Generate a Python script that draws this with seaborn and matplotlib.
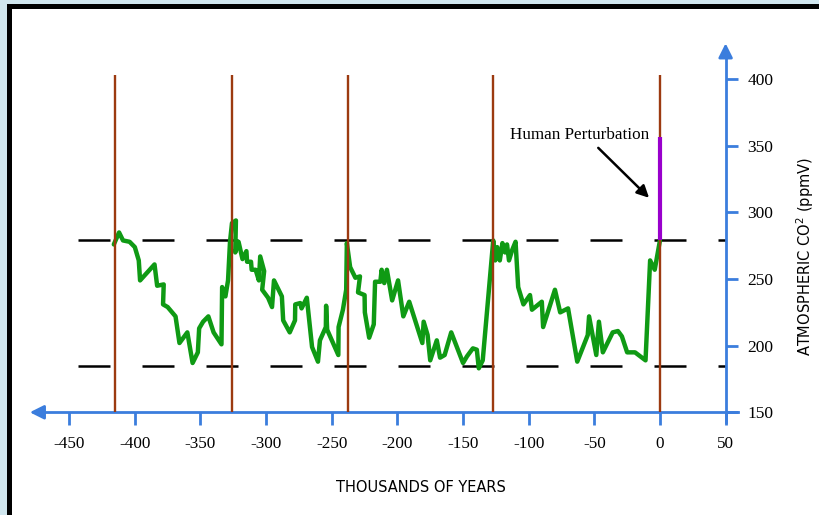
import matplotlib
matplotlib.use("Agg")
import matplotlib.pyplot as plt
from matplotlib.patches import Rectangle
import seaborn as sns
import pandas as pd

# ---- data (thousands of years, ppmV) ----
years = [-416, -412, -409, -404, -400, -397, -396, -385, -383, -378, -378.5, -375,
         -369, -366, -360, -356, -352, -351, -348, -344, -340, -334, -333.5, -331,
         -329, -327.5, -326, -323, -323.5, -321, -318, -315, -314.5, -311.5, -311,
         -308, -305.5, -304.5, -301.5, -303, -298.5, -295.5, -294, -288, -287, -282,
         -278, -277.8, -274, -273, -269, -265, -260.5, -259, -254.5, -254.3, -253.5,
         -245, -244.8, -241.5, -239, -238.5, -236, -232, -228.5, -230, -225, -224.8,
         -221.5, -218, -217, -213, -212, -210, -208, -204, -199.5, -195.5, -191,
         -181, -180, -177, -175, -170, -167.5, -164, -159, -150, -147, -142.5,
         -139.5, -138, -135, -127, -125.5, -124, -122, -120, -118, -116.5, -115,
         -112.5, -110, -108, -104, -99, -97.5, -90, -89, -80, -76, -70, -63, -55,
         -54, -48.5, -46.5, -43.5, -36, -32, -29, -25, -19, -11, -7.5, -4, 0]
co2 = [276, 285, 279, 278, 274, 264, 249, 261, 245, 246, 231, 229,
       222, 202, 210, 187, 195, 213, 218, 222, 210, 201, 244, 237,
       249, 278, 292, 294, 270, 278, 265, 271, 263, 263, 257,
       257, 249, 267, 256, 242, 236, 229, 249, 237, 219, 210,
       219, 231, 232, 228, 236, 199, 188, 204, 214, 230, 212,
       193, 214, 227, 242, 277, 259, 251, 252, 240, 238, 225,
       206, 216, 248, 248, 257, 247, 257, 234, 249, 222, 233,
       202, 218, 208, 189, 204, 191, 193, 210, 187, 192, 198,
       197, 183, 189, 279, 264, 274, 264, 277, 270, 276, 264,
       272, 278, 244, 231, 238, 227, 233, 214, 242, 225, 228, 188, 208,
       222, 193, 218, 195, 210, 211, 207, 195, 195, 189, 264, 257, 279]

interglacials = [-415, -326, -238, -127, 0]
interglacial_top = 403
band_levels = [279, 185]
human_range = [279, 357]

x_ticks = [-450, -400, -350, -300, -250, -200, -150, -100, -50, 0, 50]
y_ticks = [150, 200, 250, 300, 350, 400]

BLUE = "#3b7ddd"
GREEN = "#0f9a14"
BROWN = "#9c3a10"
PURPLE = "#9900cc"

sns.set_theme(style="white")
plt.rcParams["font.family"] = ["DejaVu Sans"]
plt.rcParams["text.color"] = "black"
plt.rcParams["xtick.labelcolor"] = "black"
plt.rcParams["ytick.labelcolor"] = "black"

fig = plt.figure(figsize=(8.2, 5.15), dpi=100)

# frame: pale blue page, black border on left/top, white inside
fig.patches.append(Rectangle((0, 0), 1, 1, transform=fig.transFigure,
                             facecolor="#d0e6ee", edgecolor="none", zorder=-10))
fig.patches.append(Rectangle((7 / 820, 0), 1, 1 - 4 / 515, transform=fig.transFigure,
                             facecolor="black", edgecolor="none", zorder=-9))
fig.patches.append(Rectangle((12 / 820, 0), 1, 1 - 9 / 515, transform=fig.transFigure,
                             facecolor="white", edgecolor="none", zorder=-8))

ax = fig.add_axes([0, 0, 1, 1])
ax.set_facecolor("none")
ax.set_xlim(-502.7, 121.9)
ax.set_ylim(72.9, 459.5)

# dashed glacial / interglacial bounds
for lvl in band_levels:
    ax.plot([-443, 50], [lvl, lvl], color="black", lw=1.8,
            dashes=(12.8, 12.8), zorder=2)

df = pd.DataFrame({"years": years, "co2": co2})
sns.lineplot(data=df, x="years", y="co2", sort=False, estimator=None,
             color=GREEN, lw=3.2, ax=ax, zorder=3)

ax.vlines(interglacials, 150, interglacial_top, color=BROWN, lw=1.7, zorder=4)
ax.vlines([0], human_range[0], human_range[1], color=PURPLE, lw=3.0, zorder=5)

# axes drawn as blue lines through the data origin
for s in ["top", "left"]:
    ax.spines[s].set_visible(False)
ax.spines["bottom"].set_position(("data", 150))
ax.spines["bottom"].set_bounds(-474, 59.4)
ax.spines["right"].set_position(("data", 50))
ax.spines["right"].set_bounds(142.7, 421)
for s in ["bottom", "right"]:
    ax.spines[s].set_color(BLUE)
    ax.spines[s].set_linewidth(2.0)

ax.annotate("", xy=(-480, 150), xytext=(-470, 150),
            arrowprops=dict(arrowstyle="-|>,head_length=0.7,head_width=0.35",
                            color=BLUE, lw=2, shrinkA=0, shrinkB=0))
ax.annotate("", xy=(50, 427), xytext=(50, 418),
            arrowprops=dict(arrowstyle="-|>,head_length=0.7,head_width=0.35",
                            color=BLUE, lw=2, shrinkA=0, shrinkB=0))

ax.set_xticks(x_ticks)
ax.set_xticklabels([str(v) for v in x_ticks], family="Liberation Serif", fontsize=12.3)
ax.yaxis.tick_right()
ax.set_yticks(y_ticks)
ax.set_yticklabels([str(v) for v in y_ticks], family="Liberation Serif", fontsize=12.5)
ax.tick_params(axis="x", direction="out", length=9.4, width=2.0, color=BLUE,
               pad=8, bottom=True)
ax.tick_params(axis="y", direction="out", length=8.6, width=2.0, color=BLUE,
               pad=7, right=True, left=False)
ax.set_xlabel("")
ax.set_ylabel("")

ax.annotate("", xy=(-8.3, 311), xytext=(-47, 348.5),
            arrowprops=dict(arrowstyle="-|>,head_length=0.6,head_width=0.3",
                            color="black", lw=1.8, shrinkA=0, shrinkB=0))
ax.text(-61, 358, "Human Perturbation", family="Liberation Serif", fontsize=12.3,
        ha="center", va="center")

fig.text(421 / 820, 1 - 487 / 515, "THOUSANDS OF YEARS", fontsize=10.5,
         ha="center", va="center")
fig.text(805 / 820, 1 - 256 / 515, "ATMOSPHERIC CO$^2$ (ppmV)", fontsize=10.5,
         rotation=90, ha="center", va="center")

fig.savefig("out.png", dpi=100)
